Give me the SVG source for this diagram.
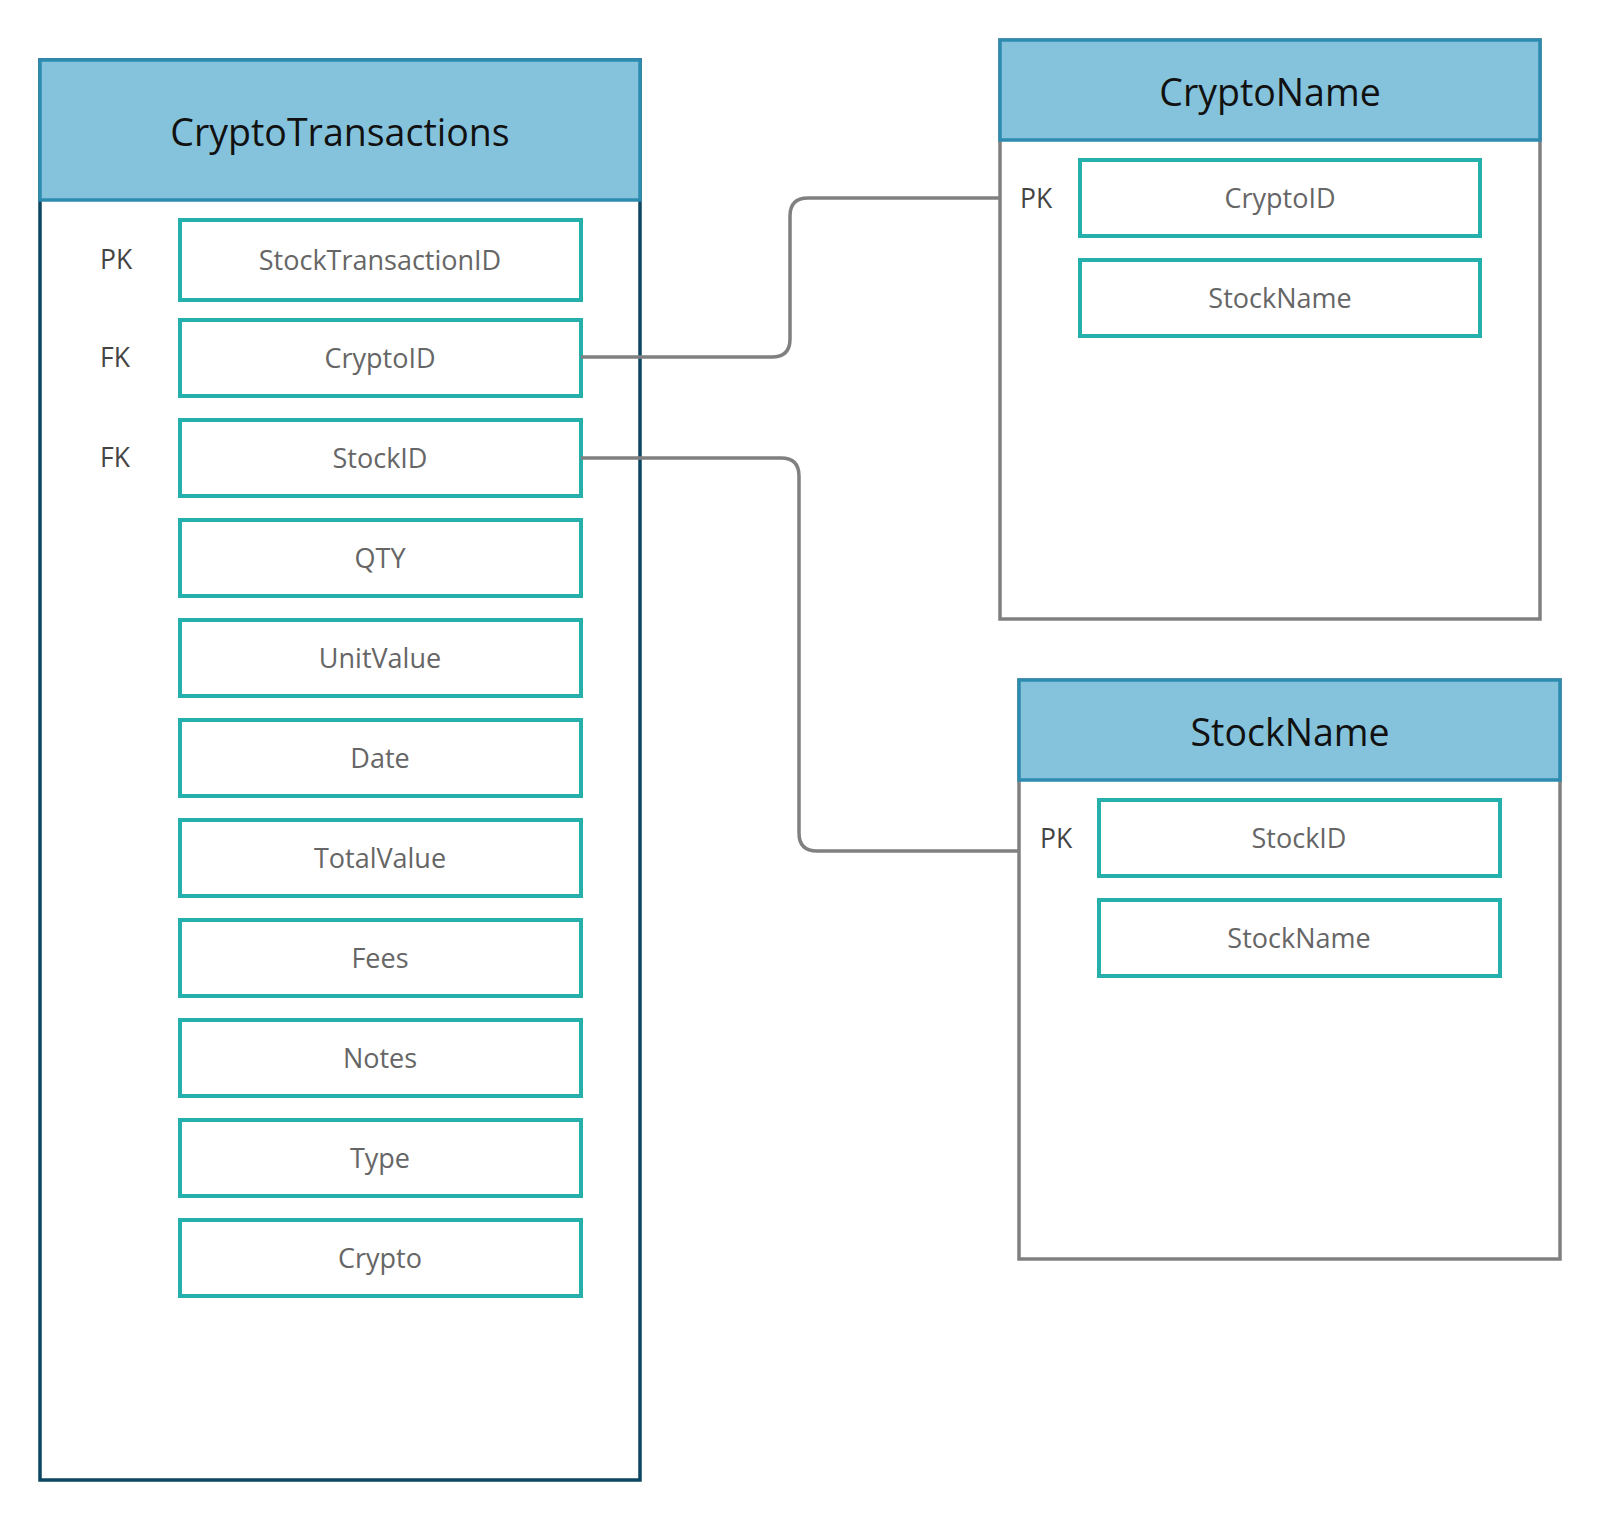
<svg xmlns="http://www.w3.org/2000/svg" width="1600" height="1521" viewBox="0 0 1600 1521">
<style>
.body-dark{fill:#ffffff;stroke:#0e4560;stroke-width:3.5}
.body-grey{fill:#ffffff;stroke:#808080;stroke-width:3.5}
.hdr{fill:#85c3dc;stroke:#2e8bb0;stroke-width:3.5}
.fld{fill:#ffffff;stroke:#26b0ac;stroke-width:4}
.title{font-family:"Open Sans","Noto Sans",sans-serif;font-size:37.5px;fill:#111111;text-anchor:middle}
.ftxt{font-family:"Open Sans","Noto Sans",sans-serif;font-size:27px;fill:#666666;text-anchor:middle}
.key{font-family:"Open Sans","Noto Sans",sans-serif;font-size:26.5px;fill:#444444}
.conn{fill:none;stroke:#808080;stroke-width:3.5}
</style>
<rect width="1600" height="1521" fill="#ffffff"/>

<g id="CryptoTransactions">
<rect class="body-dark" x="40" y="60" width="600" height="1420"/>
<rect class="hdr" x="40" y="60" width="600" height="140"/>
<text class="title" x="340" y="146">CryptoTransactions</text>
<text class="key" x="100" y="269">PK</text>
<text class="key" x="100" y="367">FK</text>
<text class="key" x="100" y="467">FK</text>
<rect class="fld" x="180" y="220" width="401" height="80"/>
<text class="ftxt" x="380" y="270">StockTransactionID</text>
<rect class="fld" x="180" y="320" width="401" height="76"/>
<text class="ftxt" x="380" y="368">CryptoID</text>
<rect class="fld" x="180" y="420" width="401" height="76"/>
<text class="ftxt" x="380" y="468">StockID</text>
<rect class="fld" x="180" y="520" width="401" height="76"/>
<text class="ftxt" x="380" y="568">QTY</text>
<rect class="fld" x="180" y="620" width="401" height="76"/>
<text class="ftxt" x="380" y="668">UnitValue</text>
<rect class="fld" x="180" y="720" width="401" height="76"/>
<text class="ftxt" x="380" y="768">Date</text>
<rect class="fld" x="180" y="820" width="401" height="76"/>
<text class="ftxt" x="380" y="868">TotalValue</text>
<rect class="fld" x="180" y="920" width="401" height="76"/>
<text class="ftxt" x="380" y="968">Fees</text>
<rect class="fld" x="180" y="1020" width="401" height="76"/>
<text class="ftxt" x="380" y="1068">Notes</text>
<rect class="fld" x="180" y="1120" width="401" height="76"/>
<text class="ftxt" x="380" y="1168">Type</text>
<rect class="fld" x="180" y="1220" width="401" height="76"/>
<text class="ftxt" x="380" y="1268">Crypto</text>
</g>

<g id="CryptoName">
<rect class="body-grey" x="1000" y="40" width="540" height="579"/>
<rect class="hdr" x="1000" y="40" width="540" height="100"/>
<text class="title" x="1270" y="106">CryptoName</text>
<text class="key" x="1020" y="208">PK</text>
<rect class="fld" x="1080" y="160" width="400" height="76"/>
<text class="ftxt" x="1280" y="208">CryptoID</text>
<rect class="fld" x="1080" y="260" width="400" height="76"/>
<text class="ftxt" x="1280" y="308">StockName</text>
</g>

<g id="StockName">
<rect class="body-grey" x="1019" y="680" width="541" height="579"/>
<rect class="hdr" x="1019" y="680" width="541" height="100"/>
<text class="title" x="1290" y="746">StockName</text>
<text class="key" x="1040" y="848">PK</text>
<rect class="fld" x="1099" y="800" width="401" height="76"/>
<text class="ftxt" x="1299" y="848">StockID</text>
<rect class="fld" x="1099" y="900" width="401" height="76"/>
<text class="ftxt" x="1299" y="948">StockName</text>
</g>

<g id="connectors">
<path class="conn" d="M 581 357 H 772 Q 790 357 790 339 V 216 Q 790 198 808 198 H 1000"/>
<path class="conn" d="M 581 458 H 781 Q 799 458 799 476 V 833 Q 799 851 817 851 H 1019"/>
</g>
</svg>
